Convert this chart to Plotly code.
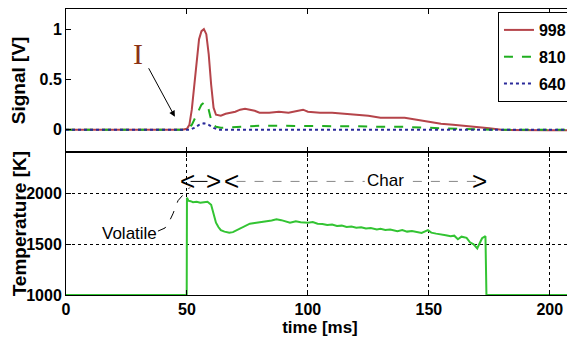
import plotly.graph_objects as go
from plotly.subplots import make_subplots

# ---- data ----
t_998 = [0, 10, 20, 30, 40, 48, 50, 51, 52, 53, 54, 55, 56, 57, 58, 59, 60, 61, 62, 64, 66, 68, 70, 72, 74, 76, 78,
         80, 84, 88, 92, 96, 98, 100, 105, 110, 115, 120, 125, 130, 135, 140, 145, 150, 155, 160, 165, 170, 175,
         180, 190, 200, 210]
s_998 = [0, 0, 0, 0, 0, 0, 0.01, 0.05, 0.2, 0.45, 0.7, 0.9, 0.98, 1.0, 0.95, 0.75, 0.45, 0.22, 0.15, 0.14, 0.16,
         0.17, 0.18, 0.2, 0.21, 0.2, 0.19, 0.17, 0.17, 0.18, 0.17, 0.19, 0.2, 0.18, 0.17, 0.17, 0.16, 0.15, 0.14,
         0.12, 0.12, 0.12, 0.1, 0.08, 0.06, 0.05, 0.04, 0.03, 0.015, 0.0, -0.005, -0.005, -0.005]

t_810 = [0, 20, 40, 50, 52, 54, 56, 57, 58, 59, 60, 61, 62, 64, 70, 80, 90, 100, 110, 120, 130, 140, 150, 160,
         170, 180, 210]
s_810 = [0, 0, 0, 0, 0.05, 0.15, 0.25, 0.27, 0.26, 0.2, 0.1, 0.05, 0.03, 0.02, 0.03, 0.04, 0.04, 0.04, 0.035,
         0.035, 0.03, 0.03, 0.02, 0.01, 0.005, 0, 0]

t_640 = [0, 20, 40, 51, 53, 55, 57, 59, 61, 63, 100, 150, 210]
s_640 = [0, 0, 0, 0, 0.02, 0.05, 0.065, 0.05, 0.02, 0.0, 0.0, 0.0, 0.0]

t_temp = [0, 49.9, 50, 50.6, 51.5, 52.5, 54, 55.5, 57, 58.5, 60, 61, 62, 63, 64, 65.5, 67.5, 69, 71.5, 73, 76,
          78, 80, 83, 85, 87, 89, 92.6, 95, 97, 100, 102, 104, 106, 108, 110, 112, 114, 116, 118, 120, 122,
          124, 126, 128.5, 130, 132, 134, 137, 139, 141, 143, 145.5, 147, 149.6, 151, 153, 155, 157, 159, 160.5,
          162, 163.5, 165.6, 167, 168.5, 170, 171, 172, 173.4, 173.8, 180, 210]
temp = [1000, 1000, 1960, 1930, 1925, 1915, 1920, 1910, 1915, 1920, 1890, 1800, 1713, 1670, 1640, 1625, 1613,
        1620, 1647, 1670, 1703, 1710, 1718, 1723, 1735, 1747, 1738, 1713, 1728, 1718, 1713, 1720, 1703, 1700,
        1690, 1695, 1680, 1684, 1670, 1676, 1663, 1668, 1655, 1660, 1647, 1652, 1640, 1645, 1630, 1640, 1625,
        1632, 1620, 1612, 1640, 1615, 1605, 1600, 1590, 1580, 1585, 1550, 1575, 1563, 1520, 1500, 1460, 1510,
        1560, 1580, 1000, 1000, 1000]

x_ticks = [0, 50, 100, 150, 200]
sig_ticks = [0, 0.5, 1]
sig_tick_text = ["0", "0.5", "1"]
temp_ticks = [1000, 1500, 2000]

FONT = "Liberation Sans, Arial"

fig = make_subplots(rows=2, cols=1, shared_xaxes=True, vertical_spacing=0)

fig.add_trace(go.Scatter(x=t_998, y=s_998, mode="lines", name="998", legendgroup="a",
                         line=dict(color="#b5444a", width=2)), row=1, col=1)
fig.add_trace(go.Scatter(x=t_810, y=s_810, mode="lines", name="810", legendgroup="b",
                         line=dict(color="#1fae1f", width=2, dash="dash")), row=1, col=1)
fig.add_trace(go.Scatter(x=t_640, y=s_640, mode="lines", name="640", legendgroup="c",
                         line=dict(color="#2a2a9a", width=2, dash="dot")), row=1, col=1)
fig.add_trace(go.Scatter(x=t_temp, y=temp, mode="lines", showlegend=False,
                         line=dict(color="#33c433", width=2)), row=2, col=1)

tickfont = dict(family=FONT, size=16, color="black", weight="bold")
axis_common = dict(showline=True, linecolor="black", linewidth=1, mirror="ticks", ticks="inside",
                   ticklen=5, tickcolor="black", zeroline=False, tickfont=tickfont, automargin=False)

fig.update_xaxes(range=[0, 210], tickvals=x_ticks, **axis_common)
fig.update_xaxes(showticklabels=False, showgrid=False, row=1, col=1)
fig.update_xaxes(showgrid=True, gridcolor="black", griddash="dot", gridwidth=1, row=2, col=1,
                 title=dict(text="time [ms]", font=dict(family=FONT, size=17, color="black", weight="bold"),
                            standoff=0))
fig.update_yaxes(range=[-0.22, 1.2], tickvals=sig_ticks, ticktext=sig_tick_text, showgrid=False,
                 row=1, col=1, **axis_common)
fig.update_yaxes(range=[1000, 2410], tickvals=temp_ticks, showgrid=True, gridcolor="black", griddash="dot",
                 row=2, col=1, **axis_common)

fig.layout.yaxis.domain = [0.5, 1.0]
fig.layout.yaxis2.domain = [0.0, 0.5]

# y-axis titles
fig.add_annotation(x=-0.092, y=0.752, xref="paper", yref="paper", text="Signal [V]", textangle=-90,
                   showarrow=False, xanchor="center", yanchor="middle",
                   font=dict(family=FONT, size=19, color="black", weight="bold"))
fig.add_annotation(x=-0.092, y=0.248, xref="paper", yref="paper", text="Temperature [K]", textangle=-90,
                   showarrow=False, xanchor="center", yanchor="middle",
                   font=dict(family=FONT, size=19, color="black", weight="bold"))

# annotations
fig.add_annotation(x=29.8, y=0.76, xref="x", yref="y", text="I", showarrow=False,
                   font=dict(family="Liberation Serif, DejaVu Serif, serif", size=30, color="#8b3214"))
fig.add_annotation(x=45, y=0.13, xref="x", yref="y", text="", showarrow=True, arrowhead=2, arrowsize=1.2,
                   arrowwidth=1, arrowcolor="black", ax=-27, ay=-50)

bracket_font = dict(family=FONT, size=26, color="black")
for xv, ch in [(50.4, "<"), (61.0, ">"), (68.6, "<"), (171.0, ">")]:
    fig.add_annotation(x=xv, y=2120, xref="x2", yref="y2", text=ch, showarrow=False, font=bracket_font)

fig.add_annotation(x=132, y=2125, xref="x2", yref="y2", text="Char", showarrow=False,
                   font=dict(family=FONT, size=17, color="black"))
fig.add_annotation(x=26.2, y=1610, xref="x2", yref="y2", text="Volatile", showarrow=False,
                   font=dict(family=FONT, size=17, color="black"))

fig.add_shape(type="line", x0=51.5, x1=58.5, y0=2120, y1=2120, xref="x2", yref="y2",
              line=dict(color="black", width=1))
fig.add_shape(type="line", x0=70.5, x1=123.5, y0=2120, y1=2120, xref="x2", yref="y2",
              line=dict(color="#888888", width=1, dash="dash"))
fig.add_shape(type="line", x0=143.4, x1=170.0, y0=2120, y1=2120, xref="x2", yref="y2",
              line=dict(color="#888888", width=1, dash="dash"))
fig.add_shape(type="path", path="M 38,1630 L 40.9,1660 L 43,1740 L 44.2,1800 L 46.3,1930 L 49.2,2010 L 51.2,2060",
              xref="x2", yref="y2", line=dict(color="black", width=1, dash="dash"))

# page body adds an 8px margin, so the figure is sized to fill the rest of the window
fig.update_layout(
    width=567, height=330,
    margin=dict(l=58, r=1, t=1, b=43),
    paper_bgcolor="white", plot_bgcolor="white",
    legend=dict(x=0.996, y=0.9895, xanchor="right", yanchor="top", bgcolor="white",
                bordercolor="black", borderwidth=1, tracegroupgap=3,
                font=dict(family=FONT, size=16, color="black", weight="bold")),
)

fig.write_html("out.html")
